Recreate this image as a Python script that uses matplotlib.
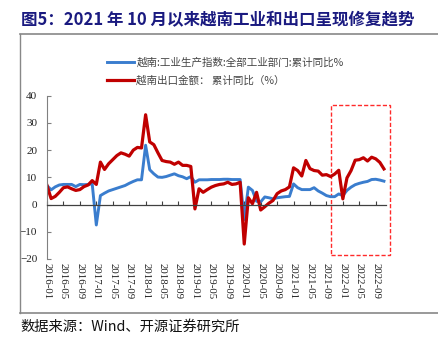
import numpy as np
import matplotlib
matplotlib.use('Agg')
import matplotlib.pyplot as plt
import pandas as pd
from matplotlib.patches import Rectangle

plt.rcParams['font.family'] = ['Noto Sans CJK SC', 'DejaVu Sans']

# 月度数据 2016-01 ~ 2022-11
months = pd.date_range('2016-01', '2022-11', freq='MS')

ip_yoy = [7, 5.4, 6.5, 7.2, 7.4, 7.4, 7.4, 6.6, 7.4, 7.3, 7.4, 7.6,
          -7.5, 3.3, 4.2, 5, 5.5, 6, 6.5, 7, 7.8, 8.5, 9.1, 9.1,
          21.8, 12.8, 11.3, 10.1, 10, 10.3, 10.8, 11.3, 10.6, 10.2, 9.5, 10.3,
          8.2, 9.1, 9.1, 9.1, 9.2, 9.2, 9.2, 9.3, 9.3, 9.2, 9.2, 9.2,
          -5.5, 6.4, 5.2, 1.2, 1.0, 2.8, 2.5, 2.1, 2.5, 2.7, 2.9, 3.0,
          7.6, 6.2, 5.5, 5.5, 5.5, 6.2, 5.0, 4.2, 3.3, 2.9, 2.9, 3.9,
          3.3, 5.2, 6.4, 7.3, 7.8, 8.2, 8.5, 9.2, 9.3, 9.0, 8.6]

export_yoy = [7, 2.2, 3, 4.5, 6.2, 6.5, 5.8, 5.2, 5.5, 6.6, 7.2, 8.8,
              7.4, 15.6, 12.9, 15, 16.5, 18, 19, 18.5, 17.8, 20, 21, 20.8,
              33, 23, 22, 19, 16.2, 15.8, 15.6, 14.8, 15.6, 14.4, 14.4, 14,
              -1.6, 5.8, 4.5, 5.5, 6.4, 7, 7.4, 7.6, 8.2, 7.4, 7.6, 8.2,
              -14.5, 2.5, 0.3, 4.5, -2, -0.8, 0.5, 1.5, 4, 5, 5.5, 6.5,
              13.5, 12.5, 10.5, 16.2, 13.2, 12.5, 12.3, 10.8, 11, 10.3, 11.2, 12.6,
              2.1, 9.8, 12.5, 16.3, 16.5, 17.2, 16, 17.4, 16.8, 15.5, 13.1]

tick_idx = list(range(0, len(months), 4))
tick_labels = [months[i].strftime('%Y-%m') for i in tick_idx]

x = np.arange(len(months))

fig = plt.figure(figsize=(4.39, 3.40), dpi=100)
fig.patch.set_facecolor('white')

ax = fig.add_axes([47/439, 81/340, 339/439, 163.3/340])
l1, = ax.plot(x, ip_yoy, color='#3A7DCE', lw=2.1, solid_joinstyle='round')
l2, = ax.plot(x, export_yoy, color='#C00000', lw=2.3, solid_joinstyle='round')

ax.set_xlim(0, 82.5)
ax.set_ylim(-20, 40)
ax.set_yticks(range(-20, 41, 10))

for s in ['top', 'right']:
    ax.spines[s].set_visible(False)
ax.spines['left'].set_color('#808080')
ax.spines['bottom'].set_position(('data', 0))
ax.spines['bottom'].set_color('#404040')
ax.spines['bottom'].set_linewidth(0.9)
ax.tick_params(axis='y', direction='in', length=3, color='#808080',
               labelsize=8, labelcolor='#222222', pad=7)
ax.tick_params(axis='x', direction='in', length=3, color='#404040', labelbottom=False)
ax.set_xticks(tick_idx)
for lab in ax.get_yticklabels():
    lab.set_fontfamily('Liberation Serif')

# 日期标签放在图底部
sec = ax.secondary_xaxis(0.0)
sec.set_xticks(tick_idx)
sec.set_xticklabels(tick_labels, rotation=-90, fontsize=7.8, color='#222222',
                    fontfamily='Liberation Serif')
sec.tick_params(length=0, pad=3)
sec.spines['bottom'].set_visible(False)

# 红色虚线框
ax.add_patch(Rectangle((69.0, -18.5), 14.5, 55, fill=False, ec='#FF2A2A',
                       lw=1.0, ls=(0, (3, 1.5)), clip_on=False))

fig.legend([l1, l2], ['越南:工业生产指数:全部工业部门:累计同比%', '越南出口金额： 累计同比（%）'],
           loc='upper left', bbox_to_anchor=(102/439, 1 - 52/340), frameon=False,
           fontsize=7.6, handlelength=2.5, handletextpad=0.25, labelspacing=0.75,
           borderpad=0, labelcolor='#444444')

fig.text(21/439, 1 - 20/340, '图5：2021 年 10 月以来越南工业和出口呈现修复趋势',
         fontsize=11.9, fontweight='bold', color='#1A1A80', va='center', ha='left')
fig.text(20/439, 1 - 327/340, '数据来源：Wind、开源证券研究所',
         fontsize=10.3, color='#111111', va='center', ha='left')

# 外框
fig.add_artist(plt.Line2D([20/439, 1], [1 - 34/340, 1 - 34/340], color='#888888', lw=1.2))
fig.add_artist(plt.Line2D([20/439, 20/439], [1 - 34/340, 1 - 313/340], color='#888888', lw=1.0))
fig.add_artist(plt.Line2D([20/439, 1], [1 - 313/340, 1 - 313/340], color='#888888', lw=1.2))

fig.savefig('out.png', dpi=100, facecolor='white')
